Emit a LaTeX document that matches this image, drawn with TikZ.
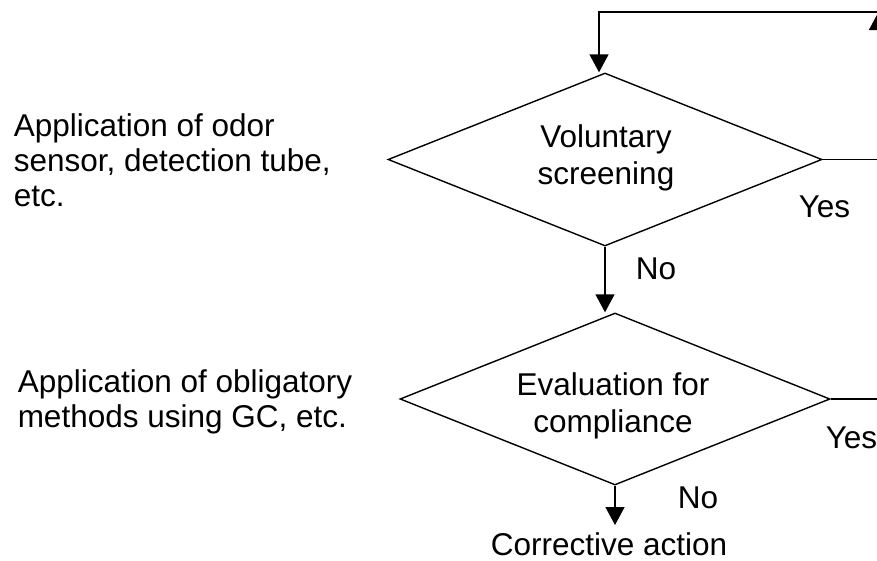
\documentclass[tikz,border=0pt]{standalone}
\usepackage{fontspec}
\setmainfont{Liberation Sans}
\usetikzlibrary{arrows.meta,shapes.geometric}
\begin{document}
\begin{tikzpicture}[x=1pt,y=-1pt,
  line width=1.5pt,
  txt/.style={inner sep=0pt,font=\fontsize{31.5}{35}\selectfont},
  dtxt/.style={inner sep=0pt,font=\fontsize{31.5}{36.5}\selectfont,align=center,anchor=base},
  dia/.style={draw,shape=diamond,inner sep=0pt,line width=1.4pt},
  arr/.style={-{Triangle[width=19pt,length=18pt]}}]
\useasboundingbox (0,0) rectangle (877,560);
\clip (0,0) rectangle (877,560);
% diamonds
\node[dia,minimum width=434pt,minimum height=173pt] (d1) at (605,159.5) {};
\node[dia,minimum width=430pt,minimum height=172pt] (d2) at (615,399) {};
\node[dtxt] (t1) at (606,184) {Voluntary\\screening};
\node[dtxt] (t2) at (613,432) {Evaluation for\\compliance};
% side texts
\node[txt,anchor=base west,align=left] (s1) at (13,206) {Application of odor\\sensor, detection tube,\\etc.};
\node[txt,anchor=base west,align=left] (s2) at (17,427) {Application of obligatory\\methods using GC, etc.};
% labels
\node[txt,anchor=base west] (no1) at (635,279) {No};
\node[txt,anchor=base west] (no2) at (677,508) {No};
\node[txt,anchor=base west] (yes1) at (798,217) {Yes};
\node[txt,anchor=base west] (yes2) at (825,448) {Yes};
\node[txt,anchor=base] (corr) at (609,555) {Corrective action};
% connectors
\coordinate (rt) at (878.5,12);
\coordinate (rb) at (878.5,70);
\coordinate (lc) at (599,12);
\coordinate (e1) at (900,159.5);
\coordinate (e2) at (900,399);
\coordinate (ct) at (615,525);
\draw[arr] (rt) -- (lc) -- (lc |- d1.north);
\draw[arr] (rb) -- (rt);
\draw (d1.east) -- (e1);
\draw (d2.east) -- (e2);
\draw[arr] (d1.south) -- (d1.south |- d2.north);
\draw[arr] (d2.south) -- (ct);
\end{tikzpicture}
\end{document}
